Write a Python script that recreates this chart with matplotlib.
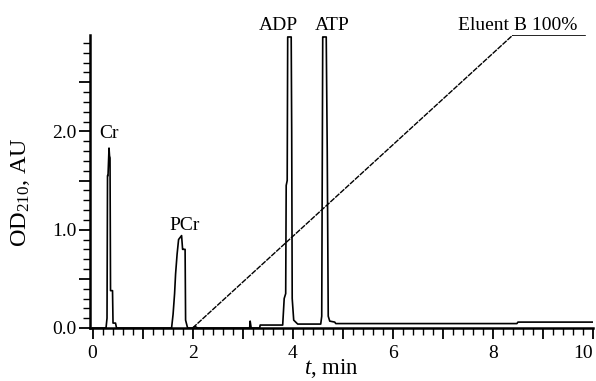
import matplotlib
matplotlib.use("Agg")
import matplotlib.pyplot as plt
from matplotlib.ticker import MultipleLocator, FuncFormatter

# chromatogram trace (time in min, OD210 in AU)
t_trace = [0.00, 0.27, 0.29, 0.30, 0.31, 0.33, 0.34, 0.35, 0.36, 0.40, 0.41, 0.46, 0.48,
           1.58, 1.61, 1.64, 1.66, 1.69, 1.72, 1.75, 1.78, 1.80, 1.82, 1.85, 1.86, 1.90,
           2.00, 2.05, 2.10, 3.14, 3.15, 3.17, 3.34, 3.35,
           3.80, 3.83, 3.86, 3.87, 3.89, 3.90, 3.97, 3.98, 3.99, 4.02, 4.10,
           4.56, 4.58, 4.60, 4.61, 4.67, 4.69, 4.71, 4.74, 4.84, 4.86,
           8.48, 8.50, 10.00]
od_trace = [0.00, 0.00, 0.10, 1.55, 1.55, 1.83, 1.75, 1.73, 0.38, 0.38, 0.05, 0.05, 0.00,
            0.00, 0.14, 0.35, 0.55, 0.75, 0.90, 0.92, 0.94, 0.80, 0.80, 0.80, 0.08, 0.00,
            0.00, 0.015, 0.00, 0.00, 0.07, 0.00, 0.00, 0.03,
            0.03, 0.30, 0.35, 1.45, 1.50, 2.96, 2.96, 2.00, 0.30, 0.08, 0.04,
            0.04, 0.12, 2.96, 2.96, 2.96, 1.80, 0.12, 0.07, 0.06, 0.045,
            0.045, 0.06, 0.06]

# eluent B gradient (scaled to the OD axis)
t_grad = [2.0, 8.4, 9.85]
b_grad = [0.0, 2.98, 2.98]

peak_names = ["Cr", "PCr", "ADP", "ATP", "Eluent B 100%"]
peak_x = [0.33, 1.84, 3.72, 4.79, 9.68]
peak_y = [1.93, 1.00, 3.03, 3.03, 3.03]
peak_ha = ["center", "center", "center", "center", "right"]

plt.rcParams.update({
    "font.family": ["Liberation Serif", "DejaVu Serif"],
    "font.size": 14,
    "mathtext.fontset": "custom",
    "mathtext.rm": "Liberation Serif",
    "mathtext.it": "Liberation Serif:italic",
    "mathtext.default": "regular",
})

fig = plt.figure(figsize=(5.96, 3.81), dpi=100)
ax = fig.add_axes([90 / 596, 1 - 328 / 381, 503 / 596, 293 / 381])

ax.plot(t_trace, od_trace, color="black", lw=1.2)
# rising part of the gradient is drawn with a fine dash, the plateau solid
ax.plot(t_grad[:2], b_grad[:2], color="black", lw=1.0, linestyle=(0, (4, 0.8)))
ax.plot(t_grad[1:], b_grad[1:], color="black", lw=1.2)

for name, x, y, ha in zip(peak_names, peak_x, peak_y, peak_ha):
    ax.text(x, y, name, ha=ha, va="baseline", fontsize=14, clip_on=False)

ax.set_xlim(-0.05, 10)
ax.set_ylim(0, 2.98)

for s in ["top", "right"]:
    ax.spines[s].set_visible(False)
for s in ["left", "bottom"]:
    ax.spines[s].set_linewidth(1.8)

ax.xaxis.set_major_locator(MultipleLocator(1))
ax.xaxis.set_minor_locator(MultipleLocator(0.2))
ax.xaxis.set_major_formatter(FuncFormatter(lambda v, p: f"{v:.0f}" if round(v) % 2 == 0 else ""))
ax.yaxis.set_major_locator(MultipleLocator(0.5))
ax.yaxis.set_minor_locator(MultipleLocator(0.1))
ax.yaxis.set_major_formatter(FuncFormatter(lambda v, p: f"{v:.1f}" if abs(v - round(v)) < 1e-6 else ""))

ax.tick_params(which="major", length=8, width=1.3, direction="out", labelsize=14)
ax.tick_params(which="minor", length=5, width=1.0, direction="out")
ax.tick_params(axis="x", pad=4)
ax.tick_params(axis="y", pad=2)

fig.canvas.draw()
for lbl in ax.get_xticklabels():
    if lbl.get_text() == "10":
        lbl.set_horizontalalignment("right")
        lbl.set_x(10.03)

ax.set_xlabel("$\\mathit{t}$, min", fontsize=16.5)
ax.xaxis.set_label_coords(0.48, -0.1)
ax.set_ylabel("OD$_{210}$, AU", fontsize=17.5)
ax.yaxis.set_label_coords(-0.115, 0.465)

plt.savefig("out.png", dpi=100)
